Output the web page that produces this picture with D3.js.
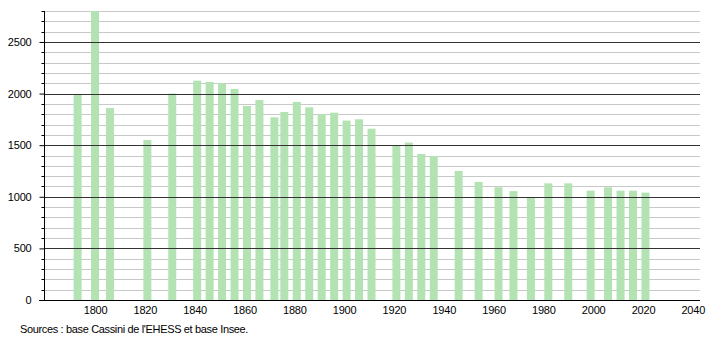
<!DOCTYPE html>
<html>
<head>
<meta charset="utf-8">
<script src="https://cdn.jsdelivr.net/npm/d3@7"></script>
<style>
  body { margin: 0; background: #fff; }
  text { font-family: "Liberation Sans", Arial, sans-serif; }
</style>
</head>
<body>
<svg id="chart" width="710" height="340"></svg>
<script>
var years = [1793, 1800, 1806, 1821, 1831, 1841, 1846, 1851, 1856, 1861, 1866, 1872, 1876, 1881, 1886, 1891, 1896, 1901, 1906, 1911,
  1921, 1926, 1931, 1936, 1946, 1954, 1962, 1968, 1975, 1982, 1990, 1999, 2006, 2011, 2016, 2021];
var population = [1990, 2800, 1860, 1550, 2000, 2125, 2112, 2100, 2045, 1880, 1938, 1770, 1822, 1919, 1867, 1802, 1815, 1738, 1751, 1660,
  1499, 1525, 1415, 1395, 1250, 1143, 1092, 1055, 995, 1130, 1130, 1059, 1092, 1059, 1059, 1040];
var yTicks = [0, 500, 1000, 1500, 2000, 2500];
var xTicks = [1800, 1820, 1840, 1860, 1880, 1900, 1920, 1940, 1960, 1980, 2000, 2020, 2040];
var sourceText = "Sources : base Cassini de l'EHESS et base Insee.";

var main = () => {
  var svg = d3.select('#chart');
  var pLeft = 44, pRight = 700, pTop = 11, pBottom = 300;

  var x = d3.scaleLinear().domain([1779.5, 2042.9]).range([pLeft, pRight]);
  var y = d3.scaleLinear().domain([0, 2800]).range([pBottom, pTop]);
  var minor = d3.range(100, 2801, 100).filter(d => d % 500 != 0);

  // minor grid every 100
  svg.append('g').selectAll('line').data(minor).enter().append('line')
    .attr('x1', pLeft).attr('x2', pRight).attr('y1', d => Math.round(y(d)) + 0.5).attr('y2', d => Math.round(y(d)) + 0.5)
    .style('stroke', '#c8c8c8').style('stroke-width', 1);

  // bars
  svg.append('g').selectAll('rect').data(years).enter().append('rect')
    .attr('x', (d) => x(d) - 4).attr('width', 8)
    .attr('y', (d, i) => y(population[i])).attr('height', (d, i) => pBottom - y(population[i]))
    .style('fill', '#b3e3b3');

  // major grid every 500 (over the bars)
  svg.append('g').selectAll('line').data(yTicks.slice(1)).enter().append('line')
    .attr('x1', pLeft).attr('x2', pRight).attr('y1', d => Math.round(y(d)) + 0.5).attr('y2', d => Math.round(y(d)) + 0.5)
    .style('stroke', '#333').style('stroke-width', 1);

  // y axis
  var yAxis = d3.axisLeft(y).tickValues(yTicks).tickFormat(d3.format('d')).tickSize(5).tickPadding(8);
  var gy = svg.append('g').attr('transform', 'translate(' + (pLeft + 0.5) + ',0)').call(yAxis);
  gy.select('.domain').attr('d', 'M0,' + pTop + 'V' + pBottom).style('stroke', '#000');
  gy.selectAll('text').style('font-size', '11px').style('fill', '#000').style('letter-spacing', '-0.2px');
  gy.selectAll('.tick line').style('stroke', '#000');

  // minor y ticks
  gy.append('g').selectAll('line').data(minor).enter().append('line')
    .attr('x1', -3).attr('x2', 0).attr('y1', d => Math.round(y(d)) + 0.5).attr('y2', d => Math.round(y(d)) + 0.5)
    .style('stroke', '#000');

  // x axis
  var xAxis = d3.axisBottom(x).tickValues(xTicks).tickFormat(d3.format('d')).tickSize(0).tickPadding(6);
  var gx = svg.append('g').attr('transform', 'translate(0,' + (pBottom + 0.5) + ')').call(xAxis);
  gx.select('.domain').attr('d', 'M' + (pLeft - 5) + ',0H' + pRight).style('stroke', '#000');
  gx.selectAll('text').style('font-size', '11px').style('fill', '#000').style('letter-spacing', '-0.2px');

  svg.append('text').attr('x', 20).attr('y', 333).text(sourceText)
    .style('font-size', '11px').style('fill', '#000').style('letter-spacing', '-0.35px');
};

main();
</script>
</body>
</html>
